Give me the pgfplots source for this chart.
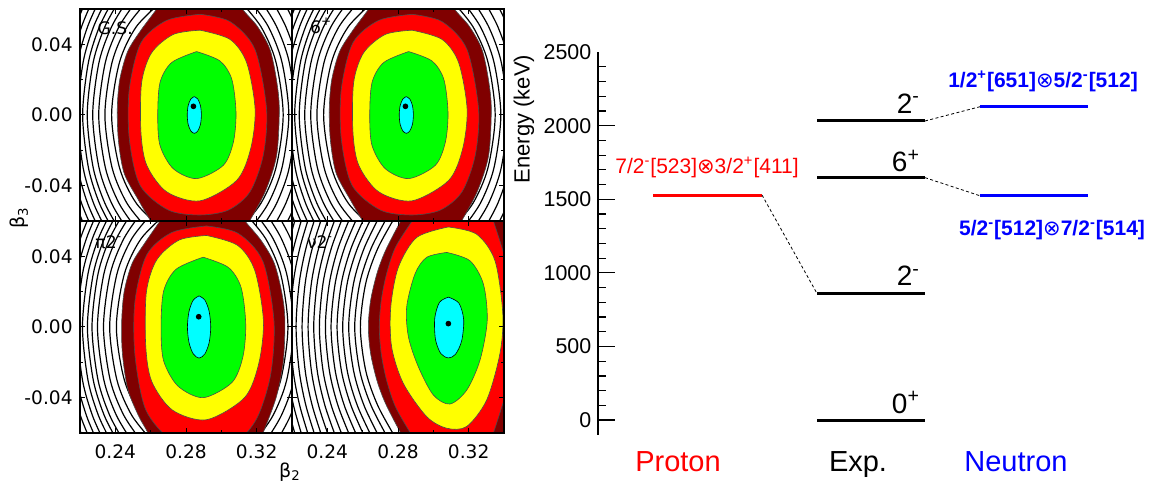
\documentclass[border=0pt]{standalone}
\usepackage{fontspec}
\setmainfont{DejaVu Sans}
\newfontfamily\lib{Liberation Sans}
\newfontfamily\dv{DejaVu Sans}
\usepackage{pgfplots}
\pgfplotsset{compat=1.18}
\definecolor{dred}{RGB}{128,0,0}
\definecolor{cred}{RGB}{255,0,0}
\definecolor{cyel}{RGB}{255,255,0}
\definecolor{cgreen}{RGB}{0,255,0}
\definecolor{ccyan}{RGB}{0,255,255}
\definecolor{nblue}{RGB}{0,0,255}
\pgfplotsset{
 panel/.style={scale only axis, width=106pt, height=106pt,
   xmin=0.22, xmax=0.34, ymin=-0.06, ymax=0.06, axis on top, anchor=south west,
   scaled ticks=false,
   xtick={0.24,0.28,0.32}, minor xtick={0.26,0.30}, ytick={-0.04,0,0.04}, minor ytick={-0.02,0.02},
   tick align=inside, major tick length=2.5pt, minor tick length=1.5pt,
   tick style={black, line width=0.5pt},
   axis line style={line width=0.9pt},
   xticklabels={}, yticklabels={},
   tick label style={font=\fontsize{9.3}{10}\selectfont},
   xticklabel style={inner sep=0pt, yshift=-5.5pt},
   yticklabel style={inner sep=0pt, xshift=-3.5pt}},
 cl/.style={black, line width=0.6pt, smooth},
 fr/.style={draw=black!70, line width=0.3pt, smooth},
}
% ---------- G.S. / 6+ contour lines ----------
\newcommand{\GSlines}{%
\addplot[cl] coordinates {(0.2670,0.065)(0.2519,0.05)(0.2424,0.03)(0.2379,0)(0.2424,-0.03)(0.2519,-0.05)(0.2670,-0.065)};
\addplot[cl] coordinates {(0.2586,0.065)(0.2466,0.05)(0.2382,0.03)(0.2341,0)(0.2382,-0.03)(0.2466,-0.05)(0.2586,-0.065)};
\addplot[cl] coordinates {(0.2523,0.065)(0.2421,0.05)(0.2344,0.03)(0.2306,0)(0.2344,-0.03)(0.2421,-0.05)(0.2523,-0.065)};
\addplot[cl] coordinates {(0.2469,0.065)(0.2379,0.05)(0.2308,0.03)(0.2272,0)(0.2308,-0.03)(0.2379,-0.05)(0.2469,-0.065)};
\addplot[cl] coordinates {(0.2423,0.065)(0.2341,0.05)(0.2275,0.03)(0.2241,0)(0.2275,-0.03)(0.2341,-0.05)(0.2423,-0.065)};
\addplot[cl] coordinates {(0.2387,0.065)(0.2310,0.05)(0.2248,0.03)(0.2215,0)(0.2248,-0.03)(0.2310,-0.05)(0.2387,-0.065)};
\addplot[cl] coordinates {(0.2349,0.065)(0.2277,0.05)(0.2218,0.03)(0.2187,0)(0.2218,-0.03)(0.2277,-0.05)(0.2349,-0.065)};
\addplot[cl] coordinates {(0.2310,0.065)(0.2243,0.05)(0.2187,0.03)(0.2157,0)(0.2187,-0.03)(0.2243,-0.05)(0.2310,-0.065)};
\addplot[cl] coordinates {(0.2272,0.065)(0.2209,0.05)(0.2155,0.03)(0.2127,0)(0.2155,-0.03)(0.2209,-0.05)(0.2272,-0.065)};
\addplot[cl] coordinates {(0.2235,0.065)(0.2175,0.05)(0.2124,0.03)(0.2097,0)(0.2124,-0.03)(0.2175,-0.05)(0.2235,-0.065)};
\addplot[cl] coordinates {(0.3102,0.065)(0.3224,0.05)(0.3309,0.03)(0.3350,0)(0.3309,-0.03)(0.3224,-0.05)(0.3102,-0.065)};
\addplot[cl] coordinates {(0.3161,0.065)(0.3266,0.05)(0.3343,0.03)(0.3382,0)(0.3343,-0.03)(0.3266,-0.05)(0.3161,-0.065)};
\addplot[cl] coordinates {(0.3222,0.065)(0.3313,0.05)(0.3384,0.03)(0.3420,0)(0.3384,-0.03)(0.3313,-0.05)(0.3222,-0.065)};
\addplot[cl] coordinates {(0.3285,0.065)(0.3365,0.05)(0.3430,0.03)(0.3463,0)(0.3430,-0.03)(0.3365,-0.05)(0.3285,-0.065)};
\addplot[cl] coordinates {(0.3350,0.065)(0.3421,0.05)(0.3480,0.03)(0.3511,0)(0.3480,-0.03)(0.3421,-0.05)(0.3350,-0.065)};
}
\newcommand{\GSshapes}{%
\addplot[fr, fill=dred] coordinates {(0.2696,0.07)(0.2634,0.06)(0.2545,0.048)(0.2470,0.036)(0.2425,0.02)(0.2411,0.0034)(0.2418,-0.015)(0.2450,-0.033)(0.2530,-0.048)(0.2600,-0.06)(0.2660,-0.07)(0.3100,-0.07)(0.3160,-0.06)(0.3250,-0.043)(0.3313,-0.0229)(0.3328,0.0034)(0.3312,0.020)(0.3275,0.0372)(0.3205,0.050)(0.3119,0.06)(0.3060,0.07)(0.2696,0.07)};
\addplot[fr, fill=cred] coordinates {(0.2879,0.0570)(0.3050,0.0528)(0.3190,0.0372)(0.3256,0.0034)(0.3237,-0.0229)(0.3162,-0.0435)(0.3040,-0.0538)(0.2879,-0.0566)(0.2700,-0.0538)(0.2540,-0.0398)(0.2479,-0.0135)(0.2479,0.0146)(0.2545,0.0409)(0.2690,0.0535)(0.2879,0.0570)};
\addplot[fr, fill=cyel] coordinates {(0.2879,0.0480)(0.3049,0.0428)(0.3143,0.0297)(0.3191,0.0034)(0.3166,-0.0191)(0.3087,-0.0370)(0.2879,-0.0486)(0.2691,-0.0435)(0.2578,-0.0285)(0.2545,-0.0097)(0.2549,0.0184)(0.2606,0.0353)(0.2728,0.0456)(0.2879,0.0480)};
\addplot[fr, fill=cgreen] coordinates {(0.2860,0.0359)(0.2992,0.0306)(0.3059,0.0203)(0.3083,0.0015)(0.3068,-0.0154)(0.3011,-0.0285)(0.2860,-0.0360)(0.2728,-0.0304)(0.2653,-0.0173)(0.2640,-0.0004)(0.2653,0.0184)(0.2719,0.0297)(0.2860,0.0359)};
\addplot[fr, draw=black, fill=ccyan] coordinates {(0.2847,0.0104)(0.2867,0.0090)(0.2882,0.0052)(0.2887,0)(0.2882,-0.0052)(0.2867,-0.0090)(0.2847,-0.0104)(0.2827,-0.0090)(0.2812,-0.0052)(0.2807,0)(0.2812,0.0052)(0.2827,0.0090)(0.2847,0.0104)};
\addplot[only marks, mark=*, mark size=1.2pt, black] coordinates {(0.2842,0.0049)};
}
% ---------- pi 2- ----------
\newcommand{\PIlines}{%
\addplot[cl] coordinates {(0.2697,0.065)(0.2546,0.05)(0.2451,0.03)(0.2406,0)(0.2451,-0.03)(0.2546,-0.05)(0.2697,-0.065)};
\addplot[cl] coordinates {(0.2613,0.065)(0.2493,0.05)(0.2409,0.03)(0.2368,0)(0.2409,-0.03)(0.2493,-0.05)(0.2613,-0.065)};
\addplot[cl] coordinates {(0.2550,0.065)(0.2448,0.05)(0.2371,0.03)(0.2333,0)(0.2371,-0.03)(0.2448,-0.05)(0.2550,-0.065)};
\addplot[cl] coordinates {(0.2496,0.065)(0.2406,0.05)(0.2335,0.03)(0.2299,0)(0.2335,-0.03)(0.2406,-0.05)(0.2496,-0.065)};
\addplot[cl] coordinates {(0.2450,0.065)(0.2368,0.05)(0.2302,0.03)(0.2268,0)(0.2302,-0.03)(0.2368,-0.05)(0.2450,-0.065)};
\addplot[cl] coordinates {(0.2414,0.065)(0.2337,0.05)(0.2275,0.03)(0.2242,0)(0.2275,-0.03)(0.2337,-0.05)(0.2414,-0.065)};
\addplot[cl] coordinates {(0.2376,0.065)(0.2304,0.05)(0.2245,0.03)(0.2214,0)(0.2245,-0.03)(0.2304,-0.05)(0.2376,-0.065)};
\addplot[cl] coordinates {(0.2337,0.065)(0.2270,0.05)(0.2214,0.03)(0.2184,0)(0.2214,-0.03)(0.2270,-0.05)(0.2337,-0.065)};
\addplot[cl] coordinates {(0.2299,0.065)(0.2236,0.05)(0.2182,0.03)(0.2154,0)(0.2182,-0.03)(0.2236,-0.05)(0.2299,-0.065)};
\addplot[cl] coordinates {(0.2262,0.065)(0.2202,0.05)(0.2151,0.03)(0.2124,0)(0.2151,-0.03)(0.2202,-0.05)(0.2262,-0.065)};
\addplot[cl] coordinates {(0.2226,0.065)(0.2169,0.05)(0.2120,0.03)(0.2094,0)(0.2120,-0.03)(0.2169,-0.05)(0.2226,-0.065)};
\addplot[cl] coordinates {(0.3129,0.065)(0.3251,0.05)(0.3336,0.03)(0.3377,0)(0.3336,-0.03)(0.3251,-0.05)(0.3129,-0.065)};
\addplot[cl] coordinates {(0.3188,0.065)(0.3293,0.05)(0.3370,0.03)(0.3409,0)(0.3370,-0.03)(0.3293,-0.05)(0.3188,-0.065)};
\addplot[cl] coordinates {(0.3249,0.065)(0.3340,0.05)(0.3411,0.03)(0.3447,0)(0.3411,-0.03)(0.3340,-0.05)(0.3249,-0.065)};
\addplot[cl] coordinates {(0.3312,0.065)(0.3392,0.05)(0.3457,0.03)(0.3490,0)(0.3457,-0.03)(0.3392,-0.05)(0.3312,-0.065)};
\addplot[cl] coordinates {(0.3377,0.065)(0.3448,0.05)(0.3507,0.03)(0.3538,0)(0.3507,-0.03)(0.3448,-0.05)(0.3377,-0.065)};
}
\newcommand{\PIshapes}{%
\addplot[fr, fill=dred] coordinates {(0.2720,0.07)(0.2653,0.06)(0.2570,0.048)(0.2495,0.036)(0.2450,0.02)(0.2436,0.003)(0.2440,-0.015)(0.2470,-0.035)(0.2530,-0.05)(0.2585,-0.06)(0.2625,-0.07)(0.3195,-0.07)(0.3236,-0.06)(0.3310,-0.040)(0.3350,-0.02)(0.3360,0.003)(0.3345,0.018)(0.3300,0.036)(0.3225,0.049)(0.3134,0.06)(0.3070,0.07)(0.2720,0.07)};
\addplot[fr, fill=cred] coordinates {(0.2916,0.0572)(0.3095,0.0530)(0.3235,0.0372)(0.3298,0.0034)(0.3279,-0.0270)(0.3203,-0.0513)(0.3088,-0.0647)(0.2916,-0.0680)(0.2726,-0.0647)(0.2573,-0.0470)(0.2511,-0.0159)(0.2511,0.0146)(0.2578,0.0409)(0.2720,0.0535)(0.2916,0.0572)};
\addplot[fr, fill=cyel] coordinates {(0.2916,0.0518)(0.3092,0.0462)(0.3189,0.0321)(0.3238,0.0037)(0.3212,-0.0206)(0.3131,-0.0400)(0.2916,-0.0525)(0.2723,-0.0470)(0.2606,-0.0308)(0.2572,-0.0105)(0.2576,0.0199)(0.2635,0.0381)(0.2761,0.0492)(0.2916,0.0518)};
\addplot[fr, fill=cgreen] coordinates {(0.2897,0.0395)(0.3040,0.0337)(0.3112,0.0223)(0.3138,0.0017)(0.3122,-0.0169)(0.3060,-0.0314)(0.2897,-0.0400)(0.2754,-0.0334)(0.2673,-0.0190)(0.2659,-0.0004)(0.2673,0.0202)(0.2744,0.0327)(0.2897,0.0395)};
\addplot[fr, draw=black, fill=ccyan] coordinates {(0.2874,0.0176)(0.2907,0.0152)(0.2931,0.0088)(0.2940,0)(0.2931,-0.0088)(0.2907,-0.0152)(0.2874,-0.0176)(0.2841,-0.0152)(0.2817,-0.0088)(0.2808,0)(0.2817,0.0088)(0.2841,0.0152)(0.2874,0.0176)};
\addplot[only marks, mark=*, mark size=1.2pt, black] coordinates {(0.2872,0.0058)};
}
% ---------- nu 2- ----------
\newcommand{\NUlines}{%
\addplot[cl] coordinates {(0.2805,0.066)(0.2688,0.045)(0.2618,0.025)(0.2587,0)(0.2618,-0.025)(0.2688,-0.045)(0.2805,-0.066)};
\addplot[cl] coordinates {(0.2760,0.066)(0.2650,0.045)(0.2584,0.025)(0.2555,0)(0.2584,-0.025)(0.2650,-0.045)(0.2760,-0.066)};
\addplot[cl] coordinates {(0.2713,0.066)(0.2610,0.045)(0.2549,0.025)(0.2521,0)(0.2549,-0.025)(0.2610,-0.045)(0.2713,-0.066)};
\addplot[cl] coordinates {(0.2670,0.066)(0.2572,0.045)(0.2513,0.025)(0.2487,0)(0.2513,-0.025)(0.2572,-0.045)(0.2670,-0.066)};
\addplot[cl] coordinates {(0.2629,0.066)(0.2536,0.045)(0.2480,0.025)(0.2455,0)(0.2480,-0.025)(0.2536,-0.045)(0.2629,-0.066)};
\addplot[cl] coordinates {(0.2587,0.066)(0.2498,0.045)(0.2445,0.025)(0.2421,0)(0.2445,-0.025)(0.2498,-0.045)(0.2587,-0.066)};
\addplot[cl] coordinates {(0.2546,0.066)(0.2462,0.045)(0.2412,0.025)(0.2389,0)(0.2412,-0.025)(0.2462,-0.045)(0.2546,-0.066)};
\addplot[cl] coordinates {(0.2503,0.066)(0.2424,0.045)(0.2376,0.025)(0.2355,0)(0.2376,-0.025)(0.2424,-0.045)(0.2503,-0.066)};
\addplot[cl] coordinates {(0.2462,0.066)(0.2388,0.045)(0.2343,0.025)(0.2323,0)(0.2343,-0.025)(0.2388,-0.045)(0.2462,-0.066)};
\addplot[cl] coordinates {(0.2422,0.066)(0.2352,0.045)(0.2310,0.025)(0.2291,0)(0.2310,-0.025)(0.2352,-0.045)(0.2422,-0.066)};
\addplot[cl] coordinates {(0.2383,0.066)(0.2316,0.045)(0.2275,0.025)(0.2257,0)(0.2275,-0.025)(0.2316,-0.045)(0.2383,-0.066)};
\addplot[cl] coordinates {(0.2345,0.066)(0.2280,0.045)(0.2241,0.025)(0.2223,0)(0.2241,-0.025)(0.2280,-0.045)(0.2345,-0.066)};
\addplot[cl] coordinates {(0.2308,0.066)(0.2245,0.045)(0.2207,0.025)(0.2190,0)(0.2207,-0.025)(0.2245,-0.045)(0.2308,-0.066)};
\addplot[cl] coordinates {(0.2270,0.066)(0.2210,0.045)(0.2173,0.025)(0.2157,0)(0.2173,-0.025)(0.2210,-0.045)(0.2270,-0.066)};
\addplot[cl] coordinates {(0.2233,0.066)(0.2175,0.045)(0.2140,0.025)(0.2124,0)(0.2140,-0.025)(0.2175,-0.045)(0.2233,-0.066)};
}
\newcommand{\NUshapes}{%
\addplot[fr, fill=dred] coordinates {(0.2870,0.07)(0.2815,0.06)(0.2728,0.043)(0.2680,0.03)(0.2645,0.015)(0.2632,0)(0.2645,-0.015)(0.2680,-0.03)(0.2728,-0.043)(0.2815,-0.06)(0.2870,-0.07)(0.3700,-0.07)(0.3700,0.07)(0.2870,0.07)};
\addplot[fr, fill=cred] coordinates {(0.2950,0.07)(0.2880,0.06)(0.2785,0.045)(0.2735,0.03)(0.2705,0.015)(0.2694,0)(0.2705,-0.015)(0.2735,-0.03)(0.2785,-0.045)(0.2870,-0.06)(0.2930,-0.07)(0.3300,-0.07)(0.3340,-0.06)(0.3430,-0.03)(0.3470,0)(0.3430,0.03)(0.3340,0.06)(0.3300,0.07)(0.2950,0.07)};
\addplot[fr, fill=cyel] coordinates {(0.3085,0.0566)(0.3245,0.0525)(0.3349,0.0375)(0.3393,0.0075)(0.3377,-0.0150)(0.3302,-0.0413)(0.3189,-0.0563)(0.3076,-0.0573)(0.2962,-0.0507)(0.2830,-0.0319)(0.2764,-0.0113)(0.2759,0.0113)(0.2802,0.0338)(0.2906,0.0507)(0.3085,0.0566)};
\addplot[fr, fill=cgreen] coordinates {(0.3076,0.0422)(0.3207,0.0375)(0.3283,0.0244)(0.3305,0.0037)(0.3264,-0.0188)(0.3189,-0.0357)(0.3094,-0.0436)(0.3000,-0.0385)(0.2915,-0.0225)(0.2859,-0.0056)(0.2849,0.0113)(0.2896,0.0300)(0.2962,0.0394)(0.3076,0.0422)};
\addplot[fr, draw=black, fill=ccyan] coordinates {(0.3085,0.0169)(0.3145,0.0135)(0.3172,0.0040)(0.3160,-0.0080)(0.3125,-0.0155)(0.3085,-0.0175)(0.3042,-0.0150)(0.3012,-0.0070)(0.3008,0.0050)(0.3035,0.0140)(0.3085,0.0169)};
\addplot[only marks, mark=*, mark size=1.2pt, black] coordinates {(0.3085,0.0019)};
}
\begin{document}
\begin{tikzpicture}
\useasboundingbox (0,0) rectangle (579.5pt,242.5pt);
% ---- G.S.
\begin{axis}[panel, at={(40pt,132pt)}, yticklabels={-0.04,0.00,0.04}]
\GSlines
\GSshapes
\end{axis}
% ---- 6+
\begin{axis}[panel, at={(146pt,132pt)}]
\GSlines
\GSshapes
\end{axis}
% ---- pi 2-
\begin{axis}[panel, at={(40pt,26pt)}, yticklabels={-0.04,0.00,0.04}, xticklabels={0.24,0.28,0.32}]
\PIlines
\PIshapes
\end{axis}
% ---- nu 2-
\begin{axis}[panel, at={(146pt,26pt)}, xticklabels={0.24,0.28,0.32}]
\NUlines
\NUshapes
\end{axis}
\node[anchor=base west, font=\fontsize{8.6}{9}\selectfont] at (45.3pt,225pt) {G.S.};
\node[anchor=base west, font=\fontsize{8.6}{9}\selectfont] at (151.5pt,225.8pt) {6\textsuperscript{+}};
\node[anchor=base west, font=\fontsize{8.6}{9}\selectfont] at (44.2pt,118.3pt) {π2\textsuperscript{-}};
\node[anchor=base west, font=\fontsize{8.6}{9}\selectfont] at (150pt,118.3pt) {ν2\textsuperscript{-}};
\node[rotate=90, font=\fontsize{9.5}{10}\selectfont] at (9.5pt,133.5pt) {β\textsubscript{3}};
\node[font=\fontsize{9.5}{10}\selectfont] at (145pt,6.5pt) {β\textsubscript{2}};
% ---- level scheme
\begin{axis}[at={(299pt,25.1pt)}, anchor=south west, scale only axis,
  width=280.5pt, height=191.35pt,
  xmin=598, xmax=1159, ymin=-100, ymax=2500, clip=false,
  axis x line=none, axis y line*=left,
  axis line style={line width=0.7pt, -},
  ytick={0,500,1000,1500,2000}, yticklabels={0,500,1000,1500,2000},
  minor ytick={100,200,300,400,600,700,800,900,1100,1200,1300,1400,1600,1700,1800,1900,2100,2200,2300,2400},
  extra y ticks={2500}, extra y tick labels={2500},
  extra y tick style={major tick length=0pt},
  tick align=inside, major tick length=8.3pt, minor tick length=4.2pt,
  tick style={black, line width=0.6pt},
  yticklabel style={font=\lib\fontsize{10.7}{12}\selectfont, inner sep=0pt, xshift=-3.2pt},
]
\addplot[cred, line width=1.5pt] coordinates {(653,1529) (762,1529)};
\addplot[black, line width=1.5pt] coordinates {(817,0) (925,0)};
\addplot[black, line width=1.5pt] coordinates {(817,860) (925,860)};
\addplot[black, line width=1.5pt] coordinates {(817,1647) (925,1647)};
\addplot[black, line width=1.5pt] coordinates {(817,2032) (925,2032)};
\addplot[nblue, line width=1.5pt] coordinates {(980,1524) (1088,1524)};
\addplot[nblue, line width=1.5pt] coordinates {(980,2129) (1088,2129)};
\addplot[black, line width=0.4pt, dash pattern=on 1.5pt off 1.2pt] coordinates {(762,1529) (817,860)};
\addplot[black, line width=0.4pt, dash pattern=on 1.5pt off 1.2pt] coordinates {(925,1647) (980,1524)};
\addplot[black, line width=0.4pt, dash pattern=on 1.5pt off 1.2pt] coordinates {(925,2032) (980,2129)};
\node[cred, font=\lib\fontsize{10.5}{12}\selectfont] at (axis cs:707,1719) {7/2\textsuperscript{-}[523]{\dv ⊗}3/2\textsuperscript{+}[411]};
\node[nblue, font=\lib\bfseries\fontsize{10.5}{12}\selectfont] at (axis cs:1043,2304) {1/2\textsuperscript{+}[651]{\dv\mdseries ⊗}5/2\textsuperscript{-}[512]};
\node[nblue, font=\lib\bfseries\fontsize{10.5}{12}\selectfont] at (axis cs:1052,1291) {5/2\textsuperscript{-}[512]{\dv\mdseries ⊗}7/2\textsuperscript{-}[514]};
\node[anchor=base east, font=\lib\fontsize{14}{16}\selectfont] at (axis cs:927,2086) {2\textsuperscript{-}};
\node[anchor=base east, font=\lib\fontsize{14}{16}\selectfont] at (axis cs:927,1688) {6\textsuperscript{+}};
\node[anchor=base east, font=\lib\fontsize{14}{16}\selectfont] at (axis cs:927,911) {2\textsuperscript{-}};
\node[anchor=base east, font=\lib\fontsize{14}{16}\selectfont] at (axis cs:927,48) {0\textsuperscript{+}};
\node[anchor=base, cred, font=\lib\fontsize{14.5}{16}\selectfont] at (axis cs:678,-350) {Proton};
\node[anchor=base, font=\lib\fontsize{14.5}{16}\selectfont] at (axis cs:858,-350) {Exp.};
\node[anchor=base, nblue, font=\lib\fontsize{14.5}{16}\selectfont] at (axis cs:1016,-350) {Neutron};
\node[rotate=90, font=\lib\fontsize{11}{13}\selectfont] at (axis cs:524,2045) {Energy (keV)};
\end{axis}
\end{tikzpicture}
\end{document}
